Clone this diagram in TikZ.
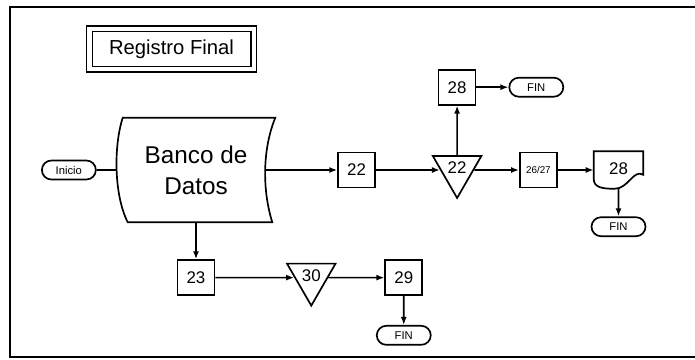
\documentclass[tikz,border=0pt]{standalone}
\usepackage{fontspec}
\setmainfont{Liberation Sans}
\usepackage{tikz}
\usetikzlibrary{positioning, arrows.meta, shapes.geometric, shapes.misc}

\begin{document}
\begin{tikzpicture}[
  node distance=8mm and 10mm,
  line/.style={line width=1.2pt},
  proc/.style={draw, line width=1.2pt, minimum width=9.25mm, minimum height=8.75mm,
    inner sep=0pt, align=center, font=\large},
  tri/.style={draw, line width=1.2pt, regular polygon, regular polygon sides=3,
    shape border rotate=180, minimum size=14mm, inner sep=0pt, font=\large},
  term/.style={draw, line width=1.2pt, rounded rectangle, minimum width=13.5mm,
    minimum height=4.75mm, inner sep=0pt, font=\footnotesize},
  titlebox/.style={draw, line width=1pt, double, double distance=1.1mm,
    minimum width=41.1mm, minimum height=10.1mm, font=\Large},
  arr/.style={-{Latex[length=2mm]}, line width=1.2pt}
]
  \useasboundingbox (0,0) rectangle (173.75mm,-89.75mm);
  % frame
  \draw[line width=1.4pt] (173.75mm,-1.75mm) -- (2.5mm,-1.75mm) -- (2.5mm,-89.25mm) -- (173.75mm,-89.25mm);

  \node[titlebox] (title) at (42.875mm,-12.25mm) {Registro Final};

  \node[minimum width=39.5mm, minimum height=26mm, align=center, font=\LARGE] (banco)
    at (49mm,-42.5mm) {Banco de\\Datos};
  \draw[line] ([xshift=1.5mm]banco.north west) -- (banco.north east)
    .. controls +(-3.25mm,-8mm) and +(-2.5mm,8mm) .. ([xshift=-0.75mm]banco.south east)
    -- ([xshift=2.75mm]banco.south west)
    .. controls +(-3.5mm,7mm) and +(-2.25mm,-7mm) .. ([xshift=1.5mm]banco.north west) -- cycle;

  \node[term, left=5mm of banco] (inicio) {Inicio};

  % upper row
  \node[proc, right=15.5mm of banco] (box22) {22};
  \node[tri, right=16mm of box22] (tri22) {\raisebox{1.2mm}{22}};
  \node[proc, above=12.4mm of tri22] (box28) {28};
  \node[term, right=8mm of box28] (fin1) {FIN};
  \node[proc, right=11.2mm of tri22, font=\scriptsize] (box2627) {26/27};
  \node[minimum width=12.25mm, minimum height=9.25mm, font=\large] (doc28)
    [right=9mm of box2627] {\raisebox{0.8mm}{28}};
  \draw[line] (doc28.north west) -- (doc28.north east) -- ([yshift=3.5mm]doc28.south east)
    .. controls +(-2.5mm,1.5mm) and +(3.5mm,0) .. ([xshift=-1mm]doc28.south)
    .. controls +(-3.5mm,0) and +(0,-2mm) .. ([yshift=2.5mm]doc28.south west) -- cycle;
  \node[term, below=6.9mm of doc28] (fin3) {FIN};

  % lower row
  \node[proc, below=9.25mm of banco] (box23) {23};
  \node[tri, right=19.7mm of box23] (tri30) {\raisebox{1.2mm}{30}};
  \node[proc, right=14mm of tri30] (box29) {29};
  \node[term, below=7.25mm of box29] (fin2) {FIN};

  \draw[line] (inicio) -- (banco.west);
  \draw[arr] ([xshift=-2.5mm]banco.east) -- (box22);
  \draw[arr] (box22) -- (tri22);
  \draw[arr] (tri22) -- (box28);
  \draw[arr] (box28) -- (fin1);
  \draw[arr] (tri22) -- (box2627);
  \draw[arr] (box2627) -- (doc28);
  \draw[arr] (doc28) -- (fin3);
  \draw[arr] (banco) -- (box23);
  \draw[arr] (box23) -- (tri30);
  \draw[arr] (tri30) -- (box29);
  \draw[arr] (box29) -- (fin2);
\end{tikzpicture}
\end{document}
